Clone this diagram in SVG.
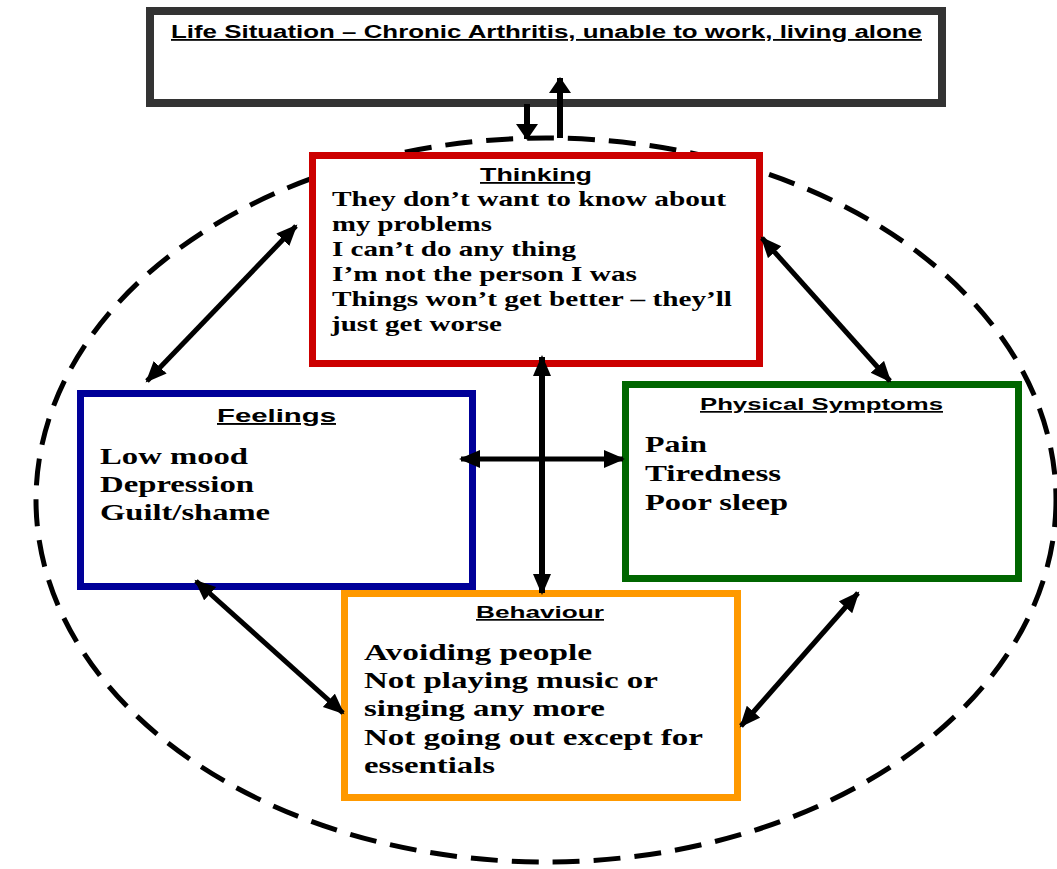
<svg xmlns="http://www.w3.org/2000/svg" width="1057" height="869" viewBox="0 0 1057 869">
<style>
.title{font-family:"Liberation Sans",Arial,sans-serif;font-weight:bold;text-decoration:underline;fill:#000}
.body{font-family:"Liberation Serif","Times New Roman",serif;font-weight:bold;fill:#000;font-size:24px}
.tb{font-size:21px}
.conn{stroke:#000;stroke-width:5;fill:none}
.vert{stroke:#000;stroke-width:6;fill:none}
</style>
<defs>
<marker id="ah" markerUnits="userSpaceOnUse" markerWidth="22" markerHeight="20" refX="19" refY="9" orient="auto-start-reverse">
<path d="M0,0 L21,9 L0,18 z" fill="#000"/>
</marker>
<marker id="ah2" markerUnits="userSpaceOnUse" markerWidth="18" markerHeight="24" refX="15" refY="11" orient="auto-start-reverse">
<path d="M0,0 L16,11 L0,22 z" fill="#000"/>
</marker>
</defs>
<rect width="1057" height="869" fill="#fff"/>
<g id="ellipse">
<ellipse cx="546" cy="500" rx="510" ry="362" fill="none" stroke="#000" stroke-width="5" stroke-dasharray="27 14"/>
</g>
<g id="life-situation">
<rect x="150" y="11" width="792" height="92" fill="#fff" stroke="#333" stroke-width="8"/>
<text class="title" x="171" y="38" font-size="18" textLength="751" lengthAdjust="spacingAndGlyphs">Life Situation – Chronic Arthritis, unable to work, living alone</text>
</g>
<g id="thinking">
<rect x="312.5" y="155.5" width="447" height="208" fill="#fff" stroke="#cc0000" stroke-width="7"/>
<text class="title" x="480" y="181" font-size="18" textLength="112" lengthAdjust="spacingAndGlyphs">Thinking</text>
<text class="body tb" x="332" y="206" textLength="394" lengthAdjust="spacingAndGlyphs">They don’t want to know about</text>
<text class="body tb" x="332" y="231" textLength="160" lengthAdjust="spacingAndGlyphs">my problems</text>
<text class="body tb" x="332" y="256" textLength="244" lengthAdjust="spacingAndGlyphs">I can’t do any thing</text>
<text class="body tb" x="332" y="281" textLength="305" lengthAdjust="spacingAndGlyphs">I’m not the person I was</text>
<text class="body tb" x="332" y="306" textLength="400" lengthAdjust="spacingAndGlyphs">Things won’t get better – they’ll</text>
<text class="body tb" x="331" y="331" textLength="171" lengthAdjust="spacingAndGlyphs">just get worse</text>
</g>
<g id="feelings">
<rect x="80.5" y="393.5" width="392" height="193" fill="#fff" stroke="#000099" stroke-width="7"/>
<text class="title" x="217" y="422" font-size="19" textLength="119" lengthAdjust="spacingAndGlyphs">Feelings</text>
<text class="body" x="100" y="464" textLength="148" lengthAdjust="spacingAndGlyphs">Low mood</text>
<text class="body" x="100" y="492" textLength="154" lengthAdjust="spacingAndGlyphs">Depression</text>
<text class="body" x="100" y="520" textLength="170" lengthAdjust="spacingAndGlyphs">Guilt/shame</text>
</g>
<g id="physical">
<rect x="625.5" y="384.5" width="393" height="194" fill="#fff" stroke="#006600" stroke-width="7"/>
<text class="title" x="700" y="410" font-size="17" textLength="243" lengthAdjust="spacingAndGlyphs">Physical Symptoms</text>
<text class="body" x="645" y="452" textLength="62" lengthAdjust="spacingAndGlyphs">Pain</text>
<text class="body" x="645" y="481" textLength="136" lengthAdjust="spacingAndGlyphs">Tiredness</text>
<text class="body" x="645" y="510" textLength="143" lengthAdjust="spacingAndGlyphs">Poor sleep</text>
</g>
<g id="behaviour">
<rect x="344.5" y="593.5" width="393" height="204" fill="#fff" stroke="#ff9900" stroke-width="7"/>
<text class="title" x="476" y="618" font-size="17" textLength="128" lengthAdjust="spacingAndGlyphs">Behaviour</text>
<text class="body" x="364" y="660" textLength="228" lengthAdjust="spacingAndGlyphs">Avoiding people</text>
<text class="body" x="364" y="688" textLength="294" lengthAdjust="spacingAndGlyphs">Not playing music or</text>
<text class="body" x="364" y="716" textLength="241" lengthAdjust="spacingAndGlyphs">singing any more</text>
<text class="body" x="364" y="745" textLength="339" lengthAdjust="spacingAndGlyphs">Not going out except for</text>
<text class="body" x="364" y="773" textLength="131" lengthAdjust="spacingAndGlyphs">essentials</text>
</g>
<g id="connectors">
<line class="conn" x1="296" y1="226" x2="147" y2="381" marker-start="url(#ah)" marker-end="url(#ah)"/>
<line class="conn" x1="762" y1="238" x2="890" y2="381" marker-start="url(#ah)" marker-end="url(#ah)"/>
<line class="vert" x1="542" y1="357" x2="542" y2="593" marker-start="url(#ah)" marker-end="url(#ah)"/>
<line class="conn" x1="461" y1="459" x2="623" y2="459" marker-start="url(#ah)" marker-end="url(#ah)"/>
<line class="conn" x1="196" y1="581" x2="343" y2="713" marker-start="url(#ah)" marker-end="url(#ah)"/>
<line class="conn" x1="858" y1="593" x2="741" y2="726" marker-start="url(#ah)" marker-end="url(#ah)"/>
<line class="vert" x1="527" y1="104" x2="527" y2="139" marker-end="url(#ah2)"/>
<line class="vert" x1="560" y1="138" x2="560" y2="78" marker-end="url(#ah2)"/>
</g>
</svg>
